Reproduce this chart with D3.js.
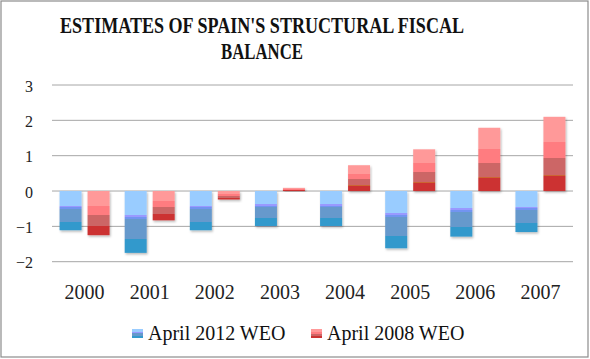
<!DOCTYPE html>
<html>
<head>
<meta charset="utf-8">
<script src="https://cdn.jsdelivr.net/npm/d3@7"></script>
<style>
  html, body { margin: 0; padding: 0; background: #fff; }
  svg { display: block; }
</style>
</head>
<body>
<svg id="chart" width="590" height="359"></svg>
<script>
// ---- data ----
const years = ["2000", "2001", "2002", "2003", "2004", "2005", "2006", "2007"];
const seriesNames = ["April 2012 WEO", "April 2008 WEO"];
const weo2012 = [-1.11, -1.75, -1.11, -0.99, -0.99, -1.62, -1.29, -1.16];
const weo2008 = [-1.25, -0.83, -0.24, 0.09, 0.73, 1.18, 1.79, 2.10];
const yTicks = [-2, -1, 0, 1, 2, 3];
const titleLines = ["ESTIMATES OF SPAIN'S STRUCTURAL FISCAL", "BALANCE"];

const svg = d3.select("#chart");
const W = 590, H = 359;

// outer frame
svg.append("rect").attr("x", 1).attr("y", 1).attr("width", 587).attr("height", 356)
  .attr("fill", "#fff").attr("stroke", "#8c8c8c").attr("stroke-width", 1.2);

const defs = svg.append("defs");
function bandGrad(id, stops) {
  const g = defs.append("linearGradient").attr("id", id)
    .attr("x1", 0).attr("y1", 0).attr("x2", 0).attr("y2", 1);
  stops.forEach(([a, b, c]) => {
    g.append("stop").attr("offset", a).attr("stop-color", c);
    g.append("stop").attr("offset", b).attr("stop-color", c);
  });
}
bandGrad("gBlue", [[0, 0.38, "#99ccff"], [0.38, 0.42, "#9999ff"], [0.42, 0.46, "#7294f0"],
                   [0.46, 0.78, "#6699cc"], [0.78, 1, "#3399cc"]]);
bandGrad("gRed", [[0, 0.34, "#ff9999"], [0.34, 0.55, "#ff7c80"], [0.55, 0.785, "#cc6666"],
                  [0.785, 0.80, "#cc6633"], [0.80, 1, "#cc3333"]]);
const f = defs.append("filter").attr("id", "shadow").attr("x", "-20%").attr("y", "-20%")
  .attr("width", "150%").attr("height", "150%");
f.append("feDropShadow").attr("dx", 1).attr("dy", 1.5).attr("stdDeviation", 1.2)
  .attr("flood-color", "#000").attr("flood-opacity", 0.28);

const fills = ["url(#gBlue)", "url(#gRed)"];

// scales
const x0 = d3.scaleBand().domain(years).range([52, 573]).padding(0);
const x1 = d3.scaleBand().domain(seriesNames).range([0, 50]).paddingInner(0.214).paddingOuter(0);
const y = d3.scaleLinear().domain([-2, 3]).range([261.7, 85]);

// gridlines
svg.append("g").selectAll("line").data(yTicks).join("line")
  .attr("x1", 52).attr("x2", 573)
  .attr("y1", d => y(d)).attr("y2", d => y(d))
  .attr("stroke", "#a6a6a6").attr("stroke-width", 1);

// y axis labels
const yAxis = d3.axisLeft(y).tickValues(yTicks).tickSize(0).tickPadding(0).tickFormat(d3.format("d"));
const ya = svg.append("g").attr("transform", "translate(33,1)").call(yAxis);
ya.select(".domain").remove();
ya.selectAll("text").attr("font-family", "Liberation Serif, serif").attr("font-size", 16)
  .attr("fill", "#222");

// x axis labels
const xAxis = d3.axisBottom(x0).tickSize(0).tickPadding(0);
const xa = svg.append("g").attr("transform", "translate(0,285)").call(xAxis);
xa.select(".domain").remove();
xa.selectAll("text").attr("font-family", "Liberation Serif, serif").attr("font-size", 20)
  .attr("fill", "#222").attr("dy", "0.71em");

// bars
const allSeries = [weo2012, weo2008];
const groups = svg.append("g").selectAll("g").data(years).join("g")
  .attr("transform", d => `translate(${x0(d) + x0.bandwidth() / 2 - 25},0)`);
groups.selectAll("rect").data((yr, i) => seriesNames.map((s, k) => ({ s, k, v: allSeries[k][i] })))
  .join("rect")
  .attr("x", d => x1(d.s))
  .attr("width", x1.bandwidth())
  .attr("y", d => y(Math.max(0, d.v)))
  .attr("height", d => Math.abs(y(d.v) - y(0)))
  .attr("fill", d => fills[d.k])
  .attr("filter", "url(#shadow)");

// title
svg.append("g").selectAll("text").data(titleLines).join("text")
  .attr("x", 262).attr("y", (d, i) => 33.3 + i * 26)
  .attr("text-anchor", "middle")
  .attr("font-family", "Liberation Serif, serif").attr("font-weight", "bold")
  .attr("font-size", 22.5).attr("fill", "#111")
  .attr("textLength", (d, i) => i === 0 ? 404 : 82)
  .attr("lengthAdjust", "spacingAndGlyphs")
  .text(d => d);

// legend
const legendX = [132, 311];
const lg = svg.append("g").selectAll("g").data(seriesNames).join("g")
  .attr("transform", (d, i) => `translate(${legendX[i]},0)`);
lg.append("rect").attr("x", 0).attr("y", 329).attr("width", 11).attr("height", 9)
  .attr("fill", (d, i) => fills[i]);
lg.append("text").attr("x", 16).attr("y", 340)
  .attr("font-family", "Liberation Serif, serif").attr("font-size", 20).attr("fill", "#111")
  .text(d => d);
</script>
</body>
</html>
